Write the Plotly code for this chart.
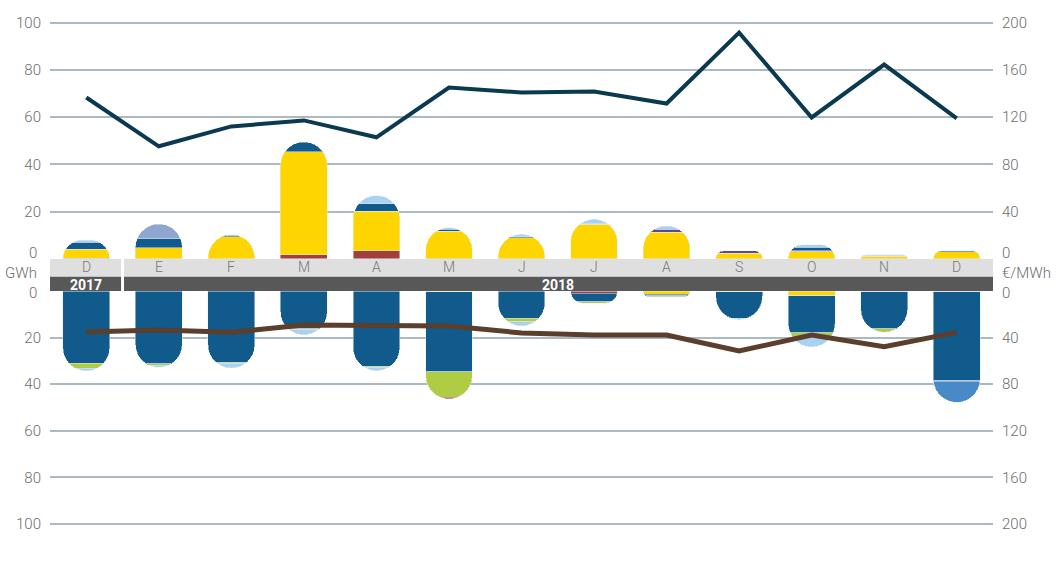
import plotly.graph_objects as go

# ---------------- data ----------------
months = ["D", "E", "F", "M", "A", "M", "J", "J", "A", "S", "O", "N", "D"]
years = ["2017", "2018"]
idx = list(range(len(months)))

# Upper block (GWh), stacked from the axis outward
up_red = [0.3, 0, 0, 1.7, 3.5, 0, 0, 0, 0, 0, 0, 0, 0]
up_yellow = [3.9, 4.8, 9.5, 43.6, 16.8, 11.8, 9.0, 14.6, 11.3, 2.4, 3.0, 1.1, 3.1]
up_pink = [0, 0, 0, 0, 0, 0, 0, 0, 0, 0, 0.4, 0, 0]
up_darkblue = [2.8, 3.7, 0.5, 4.2, 3.0, 0.7, 0.4, 0.4, 0, 0, 1.6, 0.3, 0.4]
up_purple = [0, 0, 0, 0, 0, 0, 0, 0, 1.3, 1.1, 0, 0, 0]
up_lavender = [0, 6.3, 0, 0, 0, 0, 0, 0, 0, 0, 0, 0, 0]
up_lightblue = [1.0, 0, 0.3, 0, 3.5, 0.8, 1.1, 1.8, 1.4, 0, 1.0, 0.3, 0]

# Lower block (GWh), stacked from the axis outward (downwards)
lo_red_top = [0, 0, 0, 0, 0, 0, 0, 1.0, 0, 0, 0, 0, 0]
lo_yellow = [0, 0, 0, 0, 0, 0.3, 0, 0, 1.3, 0.4, 1.8, 0, 0]
lo_pink = [0, 0, 0, 0, 0, 0, 0, 0, 0, 0, 0.3, 0.3, 0.3]
lo_darkblue = [31.0, 31.3, 30.6, 16.3, 32.2, 34.4, 11.8, 3.6, 0.8, 11.4, 15.8, 16.0, 38.2]
lo_lime = [2.1, 0.5, 0.5, 0.4, 0.5, 11.0, 1.5, 0.6, 0.4, 0, 2.1, 1.4, 0.3]
lo_lightblue = [1.2, 1.0, 2.0, 2.1, 1.5, 0, 1.7, 0, 0, 0.5, 4.0, 0, 0]
lo_midblue = [0, 0, 0, 0, 0, 0, 0, 0, 0, 0, 0, 0, 9.0]
lo_red_bottom = [0, 0, 0, 0, 0, 0.6, 0, 0, 0, 0, 0, 0, 0]

# Prices (€/MWh)
price_up = [136.7, 95.4, 112.2, 117.3, 103.0, 145.1, 141.0, 141.8, 131.6, 191.6, 119.8, 164.6, 119.0]
price_down = [35.2, 33.5, 35.5, 29.2, 29.6, 30.0, 36.0, 37.8, 37.8, 51.5, 37.8, 47.8, 35.5]

gwh_ticks = [20, 40, 60, 80, 100]
eur_ticks = [40, 80, 120, 160, 200]

# ---------------- styling ----------------
C = dict(
    red="#a23e3d", yellow="#ffd500", pink="#e59ba2", darkblue="#105a8c",
    purple="#5e4a87", lavender="#8fa6cf", lightblue="#a7d2f1",
    lime="#b0cb44", midblue="#4a89c7",
)
W, H = 1064, 583
L, R = 50, 71


def fy(px):
    return 1 - px / H


def fx(px):
    return (px - L) / (W - L - R)


def nz(vals):
    # empty segments are left out instead of drawn with zero height
    return [v if v else None for v in vals]


GMAX = 101  # a little headroom so the 100 gridline is drawn
up_zero, up_100 = 259.0, 22.7
lo_zero, lo_100 = 291.0, 524.0
up_scale = (up_zero - up_100) / 100
lo_scale = (lo_100 - lo_zero) / 100
up_dom = [fy(up_zero), fy(up_zero - GMAX * up_scale)]
lo_dom = [fy(lo_zero + GMAX * lo_scale), fy(lo_zero)]

fig = go.Figure()

upper = [("red", up_red), ("yellow", up_yellow), ("pink", up_pink),
         ("darkblue", up_darkblue), ("purple", up_purple),
         ("lavender", up_lavender), ("lightblue", up_lightblue)]
for name, vals in upper:
    fig.add_trace(go.Bar(x=idx, y=nz(vals), name=name, marker_color=C[name],
                         xaxis="x", yaxis="y", width=0.645, showlegend=False))

lower = [("red", lo_red_top), ("yellow", lo_yellow), ("pink", lo_pink),
         ("darkblue", lo_darkblue), ("lime", lo_lime),
         ("lightblue", lo_lightblue), ("midblue", lo_midblue),
         ("red", lo_red_bottom)]
for name, vals in lower:
    fig.add_trace(go.Bar(x=idx, y=nz(vals), name=name, marker_color=C[name],
                         xaxis="x", yaxis="y2", width=0.645, showlegend=False))

fig.add_trace(go.Scatter(x=idx, y=price_up, mode="lines", yaxis="y3", xaxis="x",
                         line=dict(color="#0b3a50", width=4), showlegend=False))
fig.add_trace(go.Scatter(x=idx, y=price_down, mode="lines", yaxis="y4", xaxis="x",
                         line=dict(color="#5b3e2c", width=5), showlegend=False))

tickfont = dict(family="Roboto", size=15, color="#6e6e6e", weight=300)
grid = dict(showgrid=True, gridcolor="#abb9c3", gridwidth=2, zeroline=False,
            showline=False, ticks="", tickfont=tickfont, ticklabelstandoff=8,
            automargin=False)
right = dict(showgrid=False, zeroline=False, showline=False, ticks="",
             tickfont=tickfont, ticklabelstandoff=8, automargin=False)

fig.update_layout(
    width=W, height=H,
    margin=dict(l=L, r=R, t=0, b=0, autoexpand=False),
    paper_bgcolor="white", plot_bgcolor="rgba(0,0,0,0)",
    barmode="stack", barcornerradius="50%",
    xaxis=dict(range=[-0.5, 12.5], visible=False, anchor="y2", automargin=False),
    yaxis=dict(domain=up_dom, range=[0, GMAX], tickvals=gwh_ticks, **grid),
    yaxis2=dict(domain=lo_dom, range=[GMAX, 0], tickvals=gwh_ticks, **grid),
    yaxis3=dict(overlaying="y", side="right", range=[0, 2 * GMAX], tickvals=eur_ticks, **right),
    yaxis4=dict(overlaying="y2", side="right", range=[2 * GMAX, 0], tickvals=eur_ticks, **right),
)

# month band
band_light = [fy(276.7), fy(259)]
band_dark = [fy(291), fy(276.7)]
segments = [(-0.5, 0.48), (0.52, 12.53)]
for x0, x1 in segments:
    fig.add_shape(type="rect", xref="x", yref="paper", x0=x0, x1=x1,
                  y0=band_light[0], y1=band_light[1], fillcolor="#dfdfdf",
                  line_width=0, layer="above")
    fig.add_shape(type="rect", xref="x", yref="paper", x0=x0, x1=x1,
                  y0=band_dark[0], y1=band_dark[1], fillcolor="#585858",
                  line_width=0, layer="above")

for i, m in enumerate(months):
    fig.add_annotation(x=i, y=fy(267.5), xref="x", yref="paper",
                       text=m, showarrow=False, borderpad=0,
                       font=dict(family="Roboto", size=14, color="#777777", weight=300))
year_x = [0, 6.5]
for xv, yr in zip(year_x, years):
    fig.add_annotation(x=xv, y=fy(285), xref="x", yref="paper",
                       text=f"<b>{yr}</b>", showarrow=False, borderpad=0,
                       font=dict(family="Roboto", size=14, color="white"))

# unit labels and the zero labels next to the band
lab_font = dict(family="Roboto", size=15, color="#6e6e6e", weight=300)
fig.add_annotation(x=fx(39), y=fy(273), xref="paper", yref="paper", text="GWh",
                   showarrow=False, xanchor="right", font=lab_font)
fig.add_annotation(x=fx(1000), y=fy(273), xref="paper", yref="paper", text="€/MWh",
                   showarrow=False, xanchor="left", font=lab_font)
for ypx in (253, 293):
    fig.add_annotation(x=fx(39), y=fy(ypx), xref="paper", yref="paper", text="0",
                       showarrow=False, xanchor="right", font=lab_font)
    fig.add_annotation(x=fx(1000), y=fy(ypx), xref="paper", yref="paper", text="0",
                       showarrow=False, xanchor="left", font=lab_font)

fig.write_html("out.html")
